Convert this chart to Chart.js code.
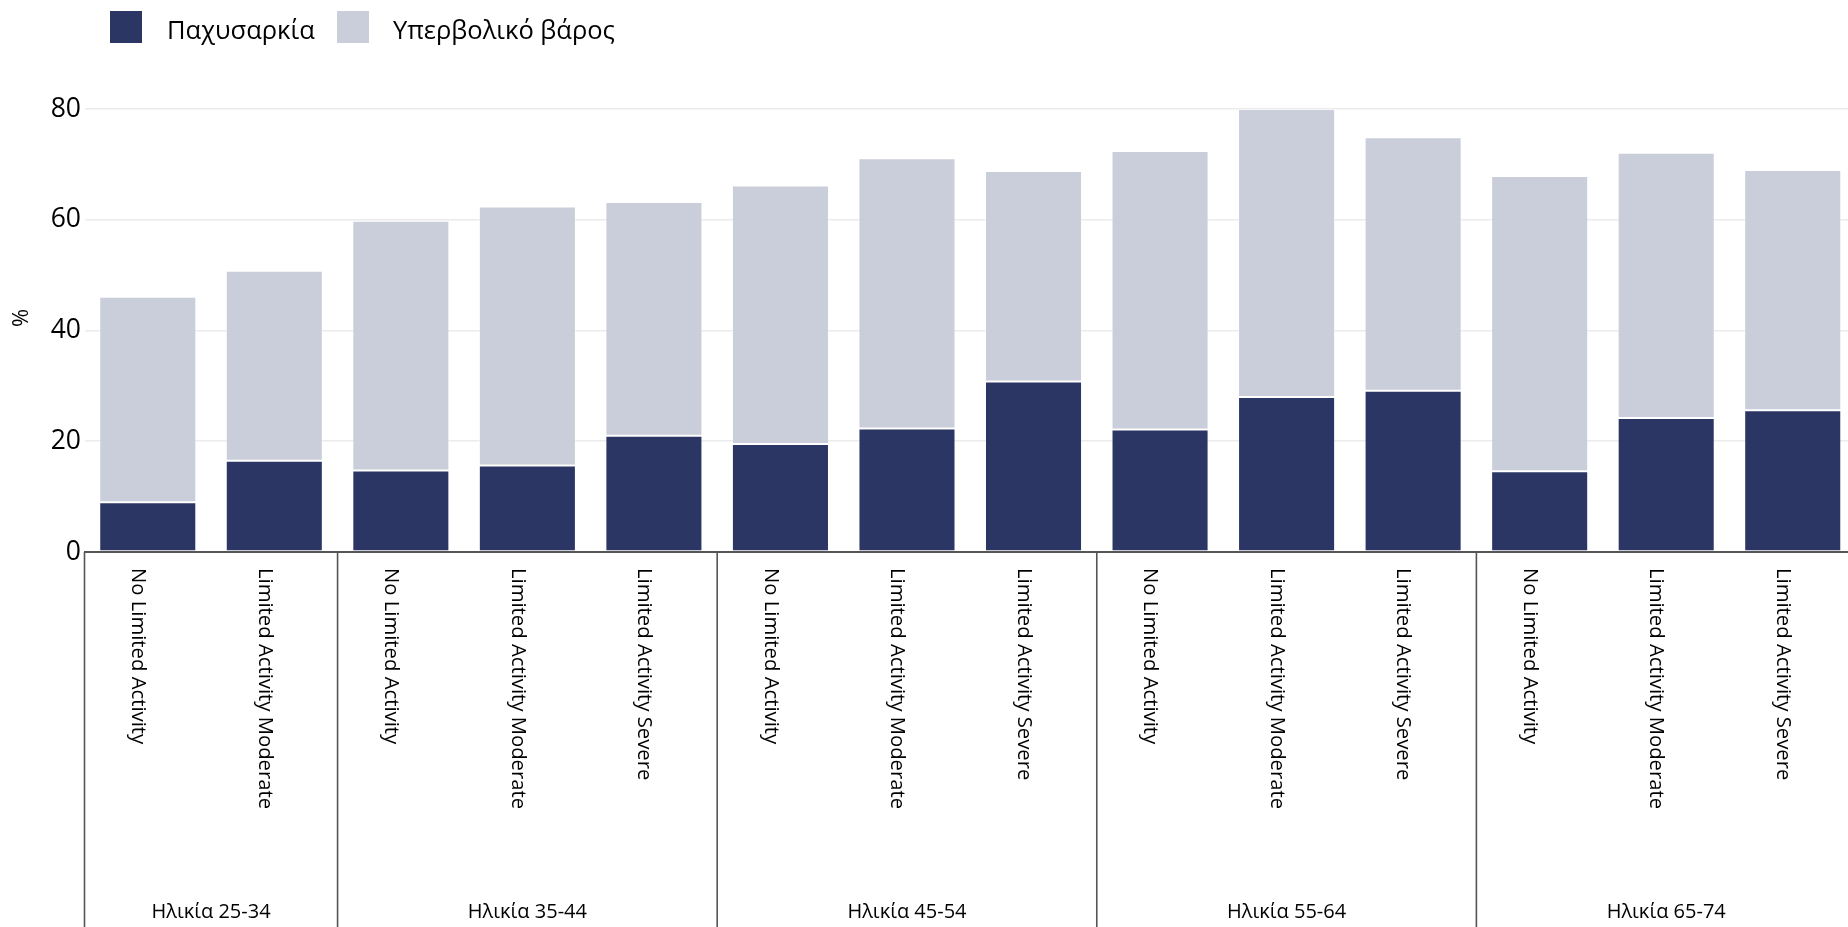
<!DOCTYPE html>
<html>
<head>
<meta charset="utf-8">
<script src="https://cdn.jsdelivr.net/npm/chart.js@4.4.1/dist/chart.umd.min.js"></script>
<style>
html,body{margin:0;padding:0;overflow:hidden;background:#fff;}
#wrap{position:relative;width:1857px;height:927px;}
</style>
</head>
<body>
<div id="wrap"><canvas id="c" width="1857" height="927"></canvas></div>
<script>
// ---- data ----
const seriesNames = ['Παχυσαρκία', 'Υπερβολικό βάρος'];
const groups = ['Ηλικία 25-34', 'Ηλικία 35-44', 'Ηλικία 45-54', 'Ηλικία 55-64', 'Ηλικία 65-74'];
const groupSizes = [2, 3, 3, 3, 3];
const categories = [
  'No Limited Activity', 'Limited Activity Moderate',
  'No Limited Activity', 'Limited Activity Moderate', 'Limited Activity Severe',
  'No Limited Activity', 'Limited Activity Moderate', 'Limited Activity Severe',
  'No Limited Activity', 'Limited Activity Moderate', 'Limited Activity Severe',
  'No Limited Activity', 'Limited Activity Moderate', 'Limited Activity Severe'
];
const obesity =    [9.0, 16.5, 14.7, 15.6, 21.0, 19.5, 22.3, 30.8, 22.1, 28.0, 29.1, 14.6, 24.2, 25.6];
const overweight = [37.1, 34.3, 45.1, 46.8, 42.2, 46.7, 48.8, 38.0, 50.3, 52.0, 45.8, 53.3, 47.9, 43.4];
const yTicks = [0, 20, 40, 60, 80];
const yTitle = '%';

// ---- style ----
const DARK = '#2b3664';
const LIGHT = '#cacdda';
const FONT = "'Open Sans', sans-serif";
Chart.defaults.font.family = FONT;

const decorPlugin = {
  id: 'decor',
  afterDraw(chart) {
    const ctx = chart.ctx;
    const xs = chart.scales.x;
    const area = chart.chartArea;
    const step = xs.getPixelForValue(1) - xs.getPixelForValue(0);
    ctx.save();

    // legend
    const legendItems = [
      {color: DARK, text: seriesNames[0], bx: 110, tx: 167},
      {color: LIGHT, text: seriesNames[1], bx: 337, tx: 393}
    ];
    ctx.font = '25.5px ' + FONT;
    ctx.textBaseline = 'alphabetic';
    ctx.textAlign = 'left';
    legendItems.forEach(it => {
      ctx.fillStyle = it.color;
      ctx.fillRect(it.bx, 11, 32, 32);
      ctx.fillStyle = '#000';
      ctx.fillText(it.text, it.tx, 39);
    });

    // y title
    ctx.save();
    ctx.translate(21.5, 318);
    ctx.rotate(-Math.PI / 2);
    ctx.font = '22px ' + FONT;
    ctx.textAlign = 'center';
    ctx.textBaseline = 'middle';
    ctx.fillStyle = '#000';
    ctx.fillText(yTitle, 0, 0);
    ctx.restore();

    // category labels (rotated, reading top to bottom)
    ctx.font = '20.3px ' + FONT;
    ctx.fillStyle = '#000';
    categories.forEach((lab, i) => {
      const x = xs.getPixelForValue(i);
      ctx.save();
      ctx.translate(x - 15.8, area.bottom + 16);
      ctx.rotate(Math.PI / 2);
      ctx.textAlign = 'left';
      ctx.textBaseline = 'alphabetic';
      ctx.fillText(lab, 0, 0);
      ctx.restore();
    });

    // group separators and labels
    ctx.strokeStyle = '#555';
    ctx.lineWidth = 1.6;
    let start = 0;
    const bounds = [0];
    groupSizes.forEach(n => { start += n; bounds.push(start); });
    bounds.forEach(b => {
      const x = xs.getPixelForValue(0) - step / 2 + b * step;
      ctx.beginPath();
      ctx.moveTo(x, area.bottom);
      ctx.lineTo(x, chart.height);
      ctx.stroke();
    });
    ctx.font = '20px ' + FONT;
    ctx.textAlign = 'center';
    ctx.textBaseline = 'alphabetic';
    groups.forEach((g, k) => {
      const x0 = xs.getPixelForValue(0) - step / 2 + bounds[k] * step;
      const x1 = xs.getPixelForValue(0) - step / 2 + bounds[k + 1] * step;
      ctx.fillText(g, (x0 + x1) / 2, 918);
    });
    ctx.restore();
  }
};

new Chart(document.getElementById('c'), {
  type: 'bar',
  data: {
    labels: categories,
    datasets: [
      {
        label: seriesNames[0],
        data: obesity,
        backgroundColor: DARK,
        borderColor: 'rgba(255,255,255,0.2)',
        borderWidth: 1,
        borderSkipped: false,
        categoryPercentage: 0.767,
        barPercentage: 1
      },
      {
        label: seriesNames[1],
        data: overweight,
        backgroundColor: LIGHT,
        borderColor: 'rgba(255,255,255,0.4)',
        borderWidth: 1,
        borderSkipped: false,
        categoryPercentage: 0.767,
        barPercentage: 1
      }
    ]
  },
  options: {
    responsive: false,
    animation: false,
    devicePixelRatio: 1,
    layout: {padding: {top: 109, left: 0, right: 1, bottom: 0}},
    plugins: {
      legend: {display: false},
      tooltip: {enabled: false},
      title: {display: false}
    },
    scales: {
      x: {
        stacked: true,
        offset: true,
        grid: {display: false},
        border: {display: true, color: '#555', width: 2},
        ticks: {display: false},
        afterFit(s) { s.height = 375; }
      },
      y: {
        stacked: true,
        min: yTicks[0],
        max: yTicks[yTicks.length - 1],
        afterBuildTicks(s) { s.ticks = yTicks.map(v => ({value: v})); },
        ticks: {
          font: {family: FONT, size: 26.5},
          color: '#000',
          padding: 3.5
        },
        grid: {color: '#ebebeb', lineWidth: 1.6, drawTicks: false},
        border: {display: false},
        afterFit(s) { s.width = 84.5; }
      }
    }
  },
  plugins: [decorPlugin]
});
</script>
</body>
</html>
